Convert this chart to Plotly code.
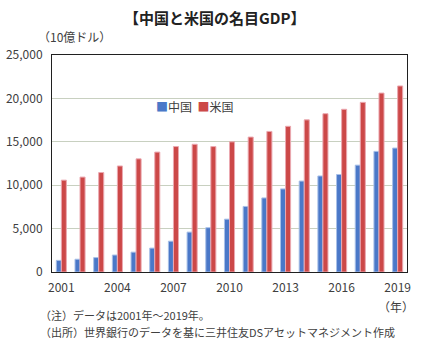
import plotly.graph_objects as go

years = [str(y) for y in range(2001, 2020)]
china = [1339, 1471, 1660, 1955, 2286, 2752, 3550, 4594, 5102, 6087,
         7552, 8532, 9570, 10476, 11062, 11233, 12310, 13895, 14280]
usa = [10582, 10936, 11458, 12214, 13037, 13815, 14452, 14713, 14449, 14992,
       15543, 16197, 16785, 17527, 18238, 18745, 19543, 20612, 21433]
tick_years = ["2001", "2004", "2007", "2010", "2013", "2016", "2019"]
y_ticks = [0, 5000, 10000, 15000, 20000, 25000]

FONT = "Noto Sans CJK JP"
TXT = "#404040"
BLUE = "#4A78C8"
RED = "#CC4848"

fig = go.Figure()
fig.add_trace(go.Bar(x=years, y=china, name="中国", showlegend=False,
                     marker=dict(color=BLUE, line=dict(color="#A8C0E8", width=1))))
fig.add_trace(go.Bar(x=years, y=usa, name="米国", showlegend=False,
                     marker=dict(color=RED, line=dict(color="#EBA8B0", width=1))))

W, H = 421, 356
ML, MR, MT, MB = 52, 14, 55, 84
fig.update_layout(
    width=W, height=H,
    margin=dict(l=ML, r=MR, t=MT, b=MB),
    paper_bgcolor="white", plot_bgcolor="white",
    font=dict(family=FONT, size=12, color=TXT),
    barmode="group", bargap=0.46, bargroupgap=0,
    xaxis=dict(type="category", tickmode="array", tickvals=tick_years,
               ticktext=tick_years, showline=True, linecolor="#202020", linewidth=1,
               mirror=True, ticks="", tickfont=dict(size=12, color=TXT),
               showgrid=False, automargin=False, ticklabelstandoff=5),
    yaxis=dict(range=[0, 25000], tickvals=y_ticks, tickformat=",d",
               showline=True, linecolor="#202020", linewidth=1, mirror=True,
               gridcolor="#C8D0C0", gridwidth=1, ticks="",
               tickfont=dict(size=12, color=TXT), zeroline=False, automargin=False,
               ticklabelstandoff=6),
)

legend_text = (f"<span style='color:{BLUE}'>■</span>中国  "
               f"<span style='color:{RED}'>■</span>米国")
annots = [
    dict(text="<b>【中国と米国の名目GDP】</b>", x=214, y=18, size=15, color="#222222", anchor="center"),
    dict(text="（10億ドル）", x=36, y=37, size=12, color=TXT, anchor="left"),
    dict(text=legend_text, x=154, y=106, size=12, color=TXT, anchor="left"),
    dict(text="（年）", x=376, y=306, size=12, color=TXT, anchor="left"),
    dict(text="（注）データは2001年～2019年。", x=38, y=314.5, size=11, color=TXT, anchor="left"),
    dict(text="（出所）世界銀行のデータを基に三井住友DSアセットマネジメント作成", x=38, y=331.5, size=11, color=TXT, anchor="left"),
]
pw, ph = W - ML - MR, H - MT - MB
for a in annots:
    fig.add_annotation(text=a["text"], xref="paper", yref="paper",
                       x=(a["x"] - ML) / pw, y=(H - MB - a["y"]) / ph,
                       xanchor=a["anchor"], yanchor="middle", showarrow=False,
                       align="left",
                       font=dict(size=a["size"], color=a["color"], family=FONT))

fig.write_html("out.html", config={"displayModeBar": False},
               post_script="document.body.style.margin='0';")
